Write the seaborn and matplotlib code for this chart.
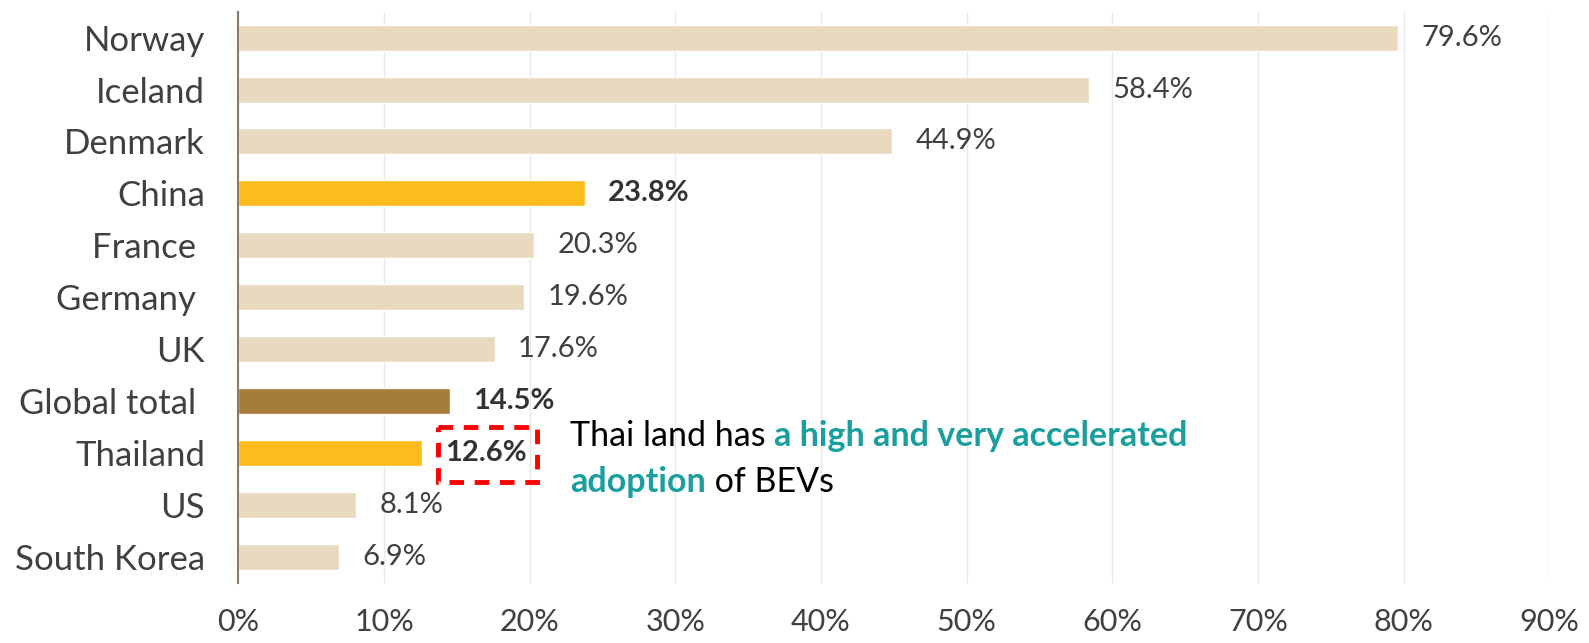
import numpy as np
import pandas as pd
import matplotlib
matplotlib.use("Agg")
import matplotlib.pyplot as plt
import seaborn as sns
from matplotlib.patches import Rectangle

# -----------------------------
# DATA
# -----------------------------
countries = ["Norway", "Iceland", "Denmark", "China", "France ", "Germany ",
             "UK", "Global total ", "Thailand", "US", "South Korea"]
share = [79.6, 58.4, 44.9, 23.8, 20.3, 19.6, 17.6, 14.5, 12.6, 8.1, 6.9]
highlight = ["China", "Thailand"]
bold_labels = ["China", "Global total ", "Thailand"]
xticks = [0, 10, 20, 30, 40, 50, 60, 70, 80, 90]

BEIGE = "#E8D9BF"
GOLD = "#FDBB1E"
BROWN = "#A67C3B"
TEAL = "#1A9E9E"
GREY = "#404040"

palette = {}
for c in countries:
    if c in highlight:
        palette[c] = GOLD
    elif c.strip() == "Global total":
        palette[c] = BROWN
    else:
        palette[c] = BEIGE

df = pd.DataFrame({"country": countries, "share": share})

# -----------------------------
# PLOT
# -----------------------------
sns.set_style("white")
plt.rcParams["font.family"] = ["Lato", "DejaVu Sans"]

fig = plt.figure(figsize=(15.89, 6.43), dpi=100)
ax = fig.add_axes([0.150, 0.093, 0.825, 0.889])

sns.barplot(data=df, x="share", y="country", hue="country", palette=palette,
            order=countries, legend=False, width=0.5, saturation=1, ax=ax)

ax.set_xlim(0, 90)
ax.set_ylim(len(countries) - 0.5, -0.5)
ax.set_xticks(xticks)
ax.set_xticklabels([f"{t}%" for t in xticks], fontsize=22, color=GREY)
ax.set_yticks(range(len(countries)))
ax.set_yticklabels(countries, fontsize=25, color=GREY)
ax.tick_params(axis="both", length=0)
ax.tick_params(axis="x", pad=18)
ax.tick_params(axis="y", pad=24)
ax.set_xlabel("")
ax.set_ylabel("")

ax.set_axisbelow(True)
ax.grid(axis="x", color="#E8E8E8", linewidth=1)
ax.grid(axis="y", visible=False)
for s in ["top", "right", "bottom"]:
    ax.spines[s].set_visible(False)
ax.spines["left"].set_color("#8A7A6E")
ax.spines["left"].set_linewidth(1.5)

# value labels
for i, (c, v) in enumerate(zip(countries, share)):
    ax.text(v + 1.6, i, f"{v}%", va="center", ha="left", fontsize=21,
            color="#333333" if c in bold_labels else GREY,
            fontweight="bold" if c in bold_labels else "normal")

# red dashed box round Thailand label
ti = countries.index("Thailand")
ax.add_patch(Rectangle((13.7, ti - 0.5), 6.8, 1.05, fill=False,
                       edgecolor="#FF0000", linewidth=3.5, linestyle=(0, (3, 2.2)),
                       clip_on=False, zorder=5))

# annotation with mixed colours
fig.canvas.draw()
renderer = fig.canvas.get_renderer()


def write_line(parts, x, y):
    for txt, col, wt in parts:
        t = fig.text(x, y, txt, fontsize=24.5, color=col, fontweight=wt,
                     va="center", ha="left")
        bb = t.get_window_extent(renderer=renderer)
        x += bb.width / fig.bbox.width


write_line([("Thai land has ", "black", "normal"),
            ("a high and very accelerated", TEAL, "bold")],
           570 / 1589, 1 - 436 / 643)
write_line([("adoption", TEAL, "bold"), (" of BEVs", "black", "normal")],
           570 / 1589, 1 - 482 / 643)

fig.savefig("out.png", dpi=100)
